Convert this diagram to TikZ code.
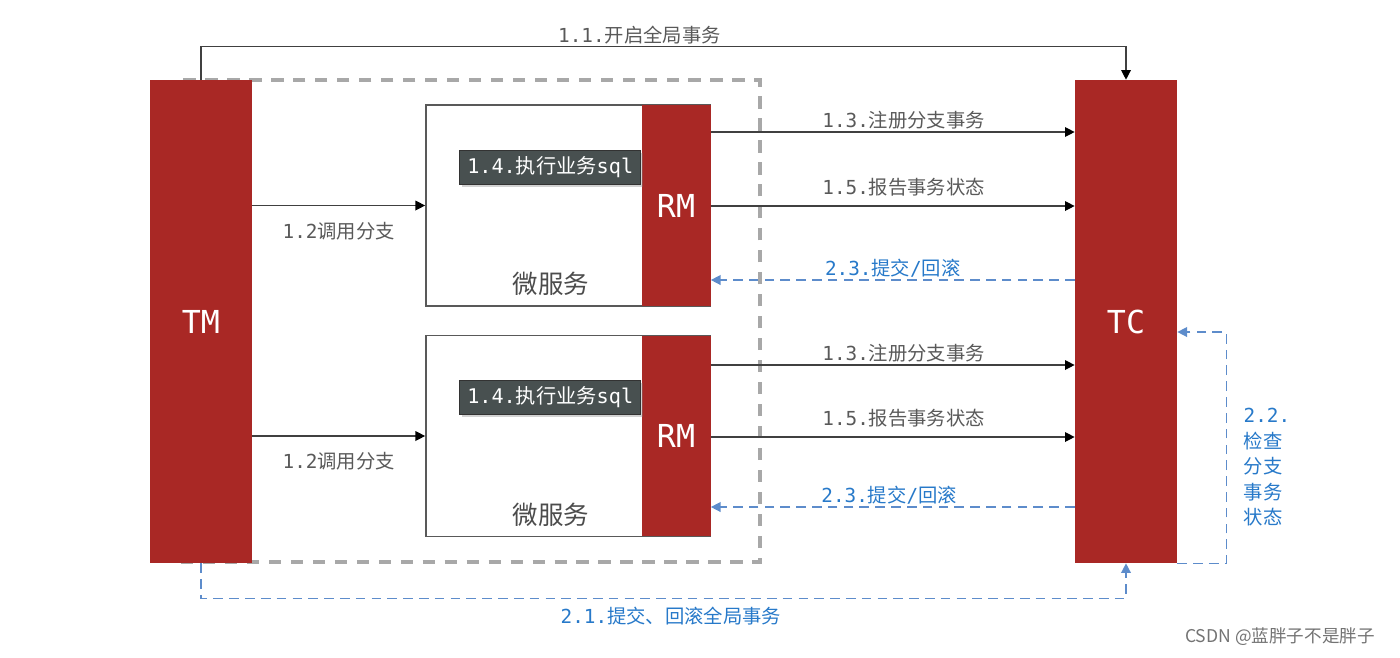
\documentclass[tikz,border=0pt]{standalone}
\usepackage{fontspec}
\setmainfont{DejaVu Sans Mono}
\newfontfamily\cjkfont{Noto Sans CJK SC}
\newcommand\zh[1]{{\cjkfont #1}}
\usetikzlibrary{positioning,calc,arrows.meta,shadows}
\definecolor{tmred}{HTML}{A92825}
\definecolor{sqlgray}{HTML}{485050}
\definecolor{lblgray}{HTML}{595959}
\definecolor{lblblue}{HTML}{2779C9}
\definecolor{arrblue}{HTML}{5D8CCB}
\definecolor{framegray}{HTML}{A8A8A8}

\begin{document}
\begin{tikzpicture}[x=0.02cm,y=-0.02cm,
	redbox/.style={fill=tmred,text=white,inner sep=0pt,font=\fontsize{18}{20}\selectfont},
	msbox/.style={draw=black!65,line width=1pt,fill=white,minimum width=5.68cm,minimum height=4.02cm},
	sqlbox/.style={fill=sqlgray,draw=black!80,line width=0.5pt,text=white,minimum width=3.62cm,minimum height=0.68cm,inner sep=0pt,font=\fontsize{11.5}{13}\selectfont,drop shadow={opacity=0.35,shadow xshift=1.2pt,shadow yshift=-1.5pt}},
	lbl/.style={text=lblgray,inner sep=1pt,font=\fontsize{11}{13}\selectfont},
	bluelbl/.style={lbl,text=lblblue},
	arr/.style={draw=black!75,line width=0.7pt,-{Triangle[length=5.5pt,width=5.5pt,color=black]}},
	bluearr/.style={draw=arrblue,line width=0.8pt,dash pattern=on 5.5pt off 3.5pt,-{Triangle[length=5.5pt,width=5.5pt]}}]
	\useasboundingbox (0,0) rectangle (1400,657);
	% frame round the micro services
	\draw[framegray,line width=2.3pt,dash pattern=on 7pt off 5.5pt] (180,80) rectangle (760,562);
	% TM and TC
	\node[redbox,minimum width=2.04cm,minimum height=9.66cm] (tm) at (201,321.5) {TM};
	\node[redbox,minimum width=2.04cm,minimum height=9.66cm] (tc) at (1126,321.5) {TC};
	% micro services
	\node[msbox] (ms1) at (568,205.5) {};
	\node[redbox,anchor=east,minimum width=1.38cm,minimum height=4.02cm] (rm1) at (ms1.east) {RM};
	\node[sqlbox,anchor=east] (sql1) at ($(rm1.west)+(0,-38.5)$) {1.4.\zh{执行业务}sql};
	\node[lbl,text=black!70,font=\fontsize{14.5}{16}\selectfont] (w1) at ($(ms1.south)+(-17,-23)$) {\zh{微服务}};
	\node[msbox] (ms2) at (568,436) {};
	\node[redbox,anchor=east,minimum width=1.38cm,minimum height=4.02cm] (rm2) at (ms2.east) {RM};
	\node[sqlbox,anchor=east] (sql2) at ($(rm2.west)+(0,-39)$) {1.4.\zh{执行业务}sql};
	\node[lbl,text=black!70,font=\fontsize{14.5}{16}\selectfont] (w2) at ($(ms2.south)+(-17,-23)$) {\zh{微服务}};
	% 1.1
	\draw[arr] (tm.north) -- ++(0,-33) -| (tc.north) node[lbl,above,pos=0.237] {1.1.\zh{开启全局事务}};
	% 1.2
	\draw[arr] (tm.east |- ms1.west) -- (ms1.west) node[lbl,below=8pt,midway] {1.2\zh{调用分支}};
	\draw[arr] (tm.east |- ms2.west) -- (ms2.west) node[lbl,below=8pt,midway] {1.2\zh{调用分支}};
	% RM 1 <-> TC
	\draw[arr] ($(rm1.east)+(0,-73.5)$) -- ($(rm1.east -| tc.west)+(0,-73.5)$) node[lbl,above,pos=0.53] {1.3.\zh{注册分支事务}};
	\draw[arr] ($(rm1.east)+(0,0.5)$) -- ($(rm1.east -| tc.west)+(0,0.5)$) node[lbl,above=4pt,pos=0.53] {1.5.\zh{报告事务状态}};
	\draw[bluearr] ($(rm1.east -| tc.west)+(0,74.5)$) -- ($(rm1.east)+(0,74.5)$) node[bluelbl,above,pos=0.5] {2.3.\zh{提交}/\zh{回滚}};
	% RM 2 <-> TC
	\draw[arr] ($(rm2.east)+(0,-71)$) -- ($(rm2.east -| tc.west)+(0,-71)$) node[lbl,above,pos=0.53] {1.3.\zh{注册分支事务}};
	\draw[arr] ($(rm2.east)+(0,1)$) -- ($(rm2.east -| tc.west)+(0,1)$) node[lbl,above=4pt,pos=0.53] {1.5.\zh{报告事务状态}};
	\draw[bluearr] ($(rm2.east -| tc.west)+(0,71)$) -- ($(rm2.east)+(0,71)$) node[bluelbl,above,pos=0.51] {2.3.\zh{提交}/\zh{回滚}};
	% 2.1 and 2.2
	\draw[bluearr] (tm.south) -- ++(0,35) -| (tc.south) node[bluelbl,below=3.5pt,pos=0.254] {2.1.\zh{提交、回滚全局事务}};
	\draw[bluearr] (tc.south east) -- ++(49,0) |- ($(tc.east)+(0,10.5)$);
	\node[bluelbl,anchor=west,align=left,inner sep=0pt,font=\fontsize{11}{14.5}\selectfont] (chk) at ($(tc.east)+(66,146)$) {2.2.\\\zh{检查}\\\zh{分支}\\\zh{事务}\\\zh{状态}};
	% watermark
	\node[text=black!55,font=\cjkfont\fontsize{10}{12}\selectfont,inner sep=0pt] (mark) at (1280,637) {CSDN @蓝胖子不是胖子};
\end{tikzpicture}
\end{document}
